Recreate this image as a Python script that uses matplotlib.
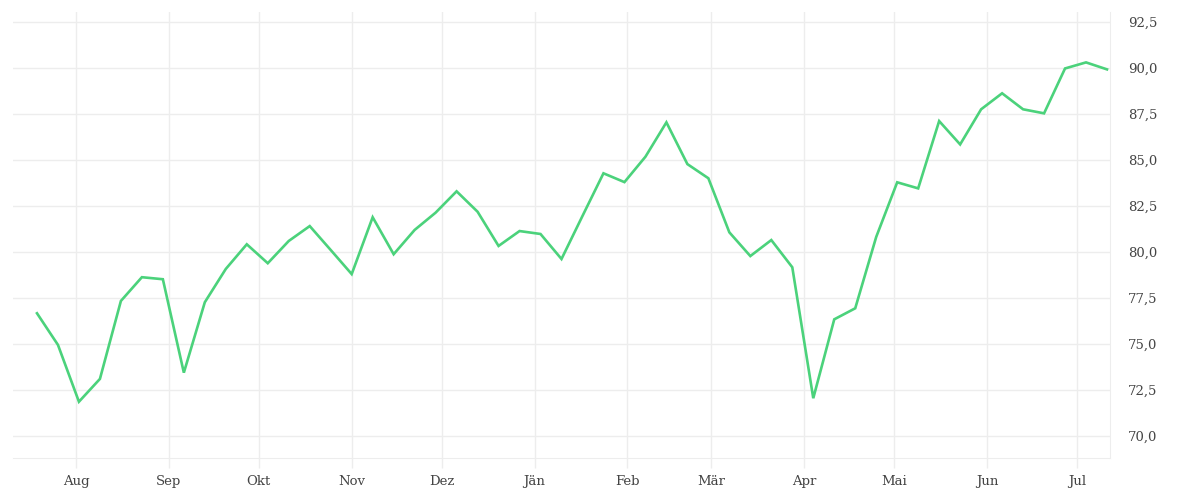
import datetime as dt
import matplotlib
matplotlib.use("Agg")
import matplotlib.pyplot as plt
import matplotlib.dates as mdates
from matplotlib.ticker import FuncFormatter, MultipleLocator

# weekly values
start_date = dt.date(2022, 7, 19)
values = [76.67, 74.95, 71.86, 73.10, 77.34, 78.63, 78.52, 73.44, 77.27, 79.08,
          80.42, 79.39, 80.60, 81.41, 80.11, 78.80, 81.89, 79.88, 81.20, 82.14,
          83.30, 82.19, 80.33, 81.14, 80.98, 79.62, 81.96, 84.28, 83.80, 85.18,
          87.05, 84.78, 84.01, 81.07, 79.78, 80.65, 79.17, 72.05, 76.34, 76.94,
          80.82, 83.79, 83.46, 87.12, 85.85, 87.76, 88.63, 87.76, 87.54, 89.98,
          90.31, 89.93]
dates = [start_date + dt.timedelta(weeks=i) for i in range(len(values))]
month_names = ["Jän", "Feb", "Mär", "Apr", "Mai", "Jun",
               "Jul", "Aug", "Sep", "Okt", "Nov", "Dez"]

grid_col = "#ededed"
text_col = "#444444"

plt.rcParams["font.family"] = ["DejaVu Serif"]

fig = plt.figure(figsize=(12, 5), dpi=100)
ax = fig.add_axes([13 / 1200, 42 / 500, 1097 / 1200, 446 / 500])

ax.plot(dates, values, color="#4bd27b", lw=1.9, solid_joinstyle="miter")

ax.set_xlim(start_date - dt.timedelta(days=8), dates[-1] + dt.timedelta(days=1.5))
ax.set_ylim(68.8, 93.05)

ax.xaxis.set_major_locator(mdates.MonthLocator())
ax.xaxis.set_major_formatter(FuncFormatter(
    lambda v, p: month_names[mdates.num2date(v).month - 1]))
ax.yaxis.set_major_locator(MultipleLocator(2.5))
ax.yaxis.set_major_formatter(FuncFormatter(lambda v, p: f"{v:.1f}".replace(".", ",")))
ax.yaxis.tick_right()

ax.tick_params(axis="x", length=7.5, width=1, color=grid_col, pad=5,
               labelsize=9.5, labelcolor=text_col)
ax.tick_params(axis="y", length=0, pad=13, labelsize=9.5, labelcolor=text_col)

ax.grid(True, color=grid_col, lw=1)
ax.set_axisbelow(True)
for side in ["left", "top"]:
    ax.spines[side].set_visible(False)
ax.spines["right"].set_color(grid_col)
ax.spines["bottom"].set_color(grid_col)

fig.savefig("out.png", dpi=100, facecolor="white")
